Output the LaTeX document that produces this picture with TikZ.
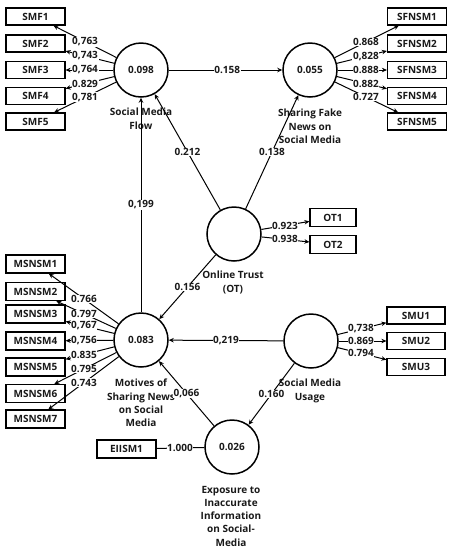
\documentclass[tikz,border=0pt]{standalone}
\usepackage{fontspec}
\setmainfont{Open Sans}
\usetikzlibrary{arrows.meta,calc}
\begin{document}
\begin{tikzpicture}[x=1pt,y=-1pt,
  font=\fontsize{10}{13.2}\selectfont\bfseries,
  every node/.style={text=black!90},
  lv/.style={circle,draw=black,line width=1.5pt,minimum size=54pt,inner sep=0pt},
  ind/.style={rectangle,draw=black,line width=1.2pt,minimum width=59pt,minimum height=17pt,inner sep=0pt},
  capt/.style={align=center,inner sep=0pt,anchor=north},
  lbl/.style={fill=white,inner sep=0.6pt},
  arr/.style={-{Stealth[length=5pt,width=4.5pt]},line width=1pt,draw=black},
  ln/.style={line width=1pt,draw=black}
]
\useasboundingbox (0,0) rectangle (451,550);

% latent variables
\node[lv] (smf) at (141,70) {0.098};
\node[lv] (sfn) at (310,70) {0.055};
\node[lv] (ot) at (234,234) {};
\node[lv] (msn) at (141,340) {0.083};
\node[lv] (smu) at (311,341) {};
\node[lv] (exp) at (232,447) {0.026};

% captions
\node[capt] (csmf) at (141,108) {Social Media\\Flow};
\node[capt] (csfn) at (310,109) {Sharing Fake\\News on\\Social Media};
\node[capt] (cot) at (233,271) {Online Trust\\(OT)};
\node[capt] (cmsn) at (141,379) {Motives of\\Sharing News\\on Social\\Media};
\node[capt] (csmu) at (310,379) {Social Media\\Usage};
\node[capt] (cexp) at (231,486) {Exposure to\\Inaccurate\\Information\\on Social-\\Media};

% indicators
\node[ind] (smf1) at (35.5,16.5) {SMF1};
\node[ind] (smf2) at (35.5,43.5) {SMF2};
\node[ind] (smf3) at (35.5,70) {SMF3};
\node[ind] (smf4) at (35.5,96) {SMF4};
\node[ind] (smf5) at (35.5,121.5) {SMF5};

\node[ind] (sfn1) at (417,16.5) {SFNSM1};
\node[ind] (sfn2) at (417,43.5) {SFNSM2};
\node[ind] (sfn3) at (417,70) {SFNSM3};
\node[ind] (sfn4) at (417,96) {SFNSM4};
\node[ind] (sfn5) at (417,121.5) {SFNSM5};

\node[ind,minimum width=46pt,minimum height=18pt] (ot1) at (333,217.5) {OT1};
\node[ind,minimum width=46pt,minimum height=18pt] (ot2) at (333,244.5) {OT2};

\node[ind,minimum height=18pt] (msn1) at (35.5,264) {MSNSM1};
\node[ind,minimum height=18pt] (msn2) at (35.5,291.5) {MSNSM2};
\node[ind,minimum height=18pt] (msn3) at (35.5,314) {MSNSM3};
\node[ind,minimum height=18pt] (msn4) at (35.5,341) {MSNSM4};
\node[ind,minimum height=18pt] (msn5) at (35.5,367) {MSNSM5};
\node[ind,minimum height=18pt] (msn6) at (35.5,393.5) {MSNSM6};
\node[ind,minimum height=18pt] (msn7) at (35.5,419) {MSNSM7};

\node[ind,minimum width=58pt] (smu1) at (416,315.5) {SMU1};
\node[ind,minimum width=58pt] (smu2) at (416,341) {SMU2};
\node[ind,minimum width=58pt] (smu3) at (416,367) {SMU3};

\node[ind,minimum height=18pt] (eii1) at (126.5,449) {EIISM1};

% loadings SMF
\foreach \i/\v in {1/0{,}763,2/0{,}743,3/0{,}764,4/0.829,5/0{,}781}{
  \draw[arr] (smf) -- (smf\i);
  \node[lbl] at ($(smf)!0.53!(smf\i)$) {\v};
}
% loadings SFNSM
\foreach \i/\v in {1/0.868,2/0{,}828,3/0.888,4/0.882,5/0.727}{
  \draw[arr] (sfn) -- (sfn\i);
  \node[lbl] at ($(sfn)!0.523!(sfn\i)$) {\v};
}
% loadings OT
\foreach \i/\v in {1/0.923,2/0.938}{
  \draw[arr] (ot) -- (ot\i);
  \node[lbl] at ($(ot)!0.515!(ot\i)$) {\v};
}
% loadings MSNSM
\foreach \i/\v in {1/0.766,2/0.797,3/0{,}767,4/0{,}756,5/0.835,6/0.795,7/0.743}{
  \draw[arr] (msn) -- (msn\i);
  \node[lbl] at ($(msn)!0.54!(msn\i)$) {\v};
}
% loadings SMU
\foreach \i/\v in {1/0{,}738,2/0.869,3/0.794}{
  \draw[arr] (smu) -- (smu\i);
  \node[lbl] at ($(smu)!0.476!(smu\i)$) {\v};
}
% EIISM1
\draw[ln] (eii1) -- (exp);
\node[lbl] at ($(eii1)!0.507!(exp)$) {1.000};

% structural paths
\draw[arr] (smf) -- (sfn);
\node[lbl] at ($(smf)!0.51!(sfn)$) {0.158};
\draw[arr] (ot) -- (smf);
\node[lbl] at ($(ot)!0.5!(smf)$) {0.212};
\draw[arr] (ot) -- (sfn);
\node[lbl] at ($(ot)!0.5!(sfn)$) {0.138};
\draw[arr] (msn) -- (smf);
\node[lbl] at ($(msn)!0.5!(smf)$) {0{,}199};
\draw[arr] (ot) -- (msn);
\node[lbl] at ($(ot)!0.5!(msn)$) {0.156};
\draw[arr] (smu) -- (msn);
\node[lbl] at ($(smu)!0.5!(msn)$) {0{,}219};
\draw[arr] (smu) -- (exp);
\node[lbl] at ($(smu)!0.5!(exp)$) {0.160};
\draw[arr] (exp) -- (msn);
\node[lbl] at ($(exp)!0.5!(msn)$) {0{,}066};
\end{tikzpicture}
\end{document}
